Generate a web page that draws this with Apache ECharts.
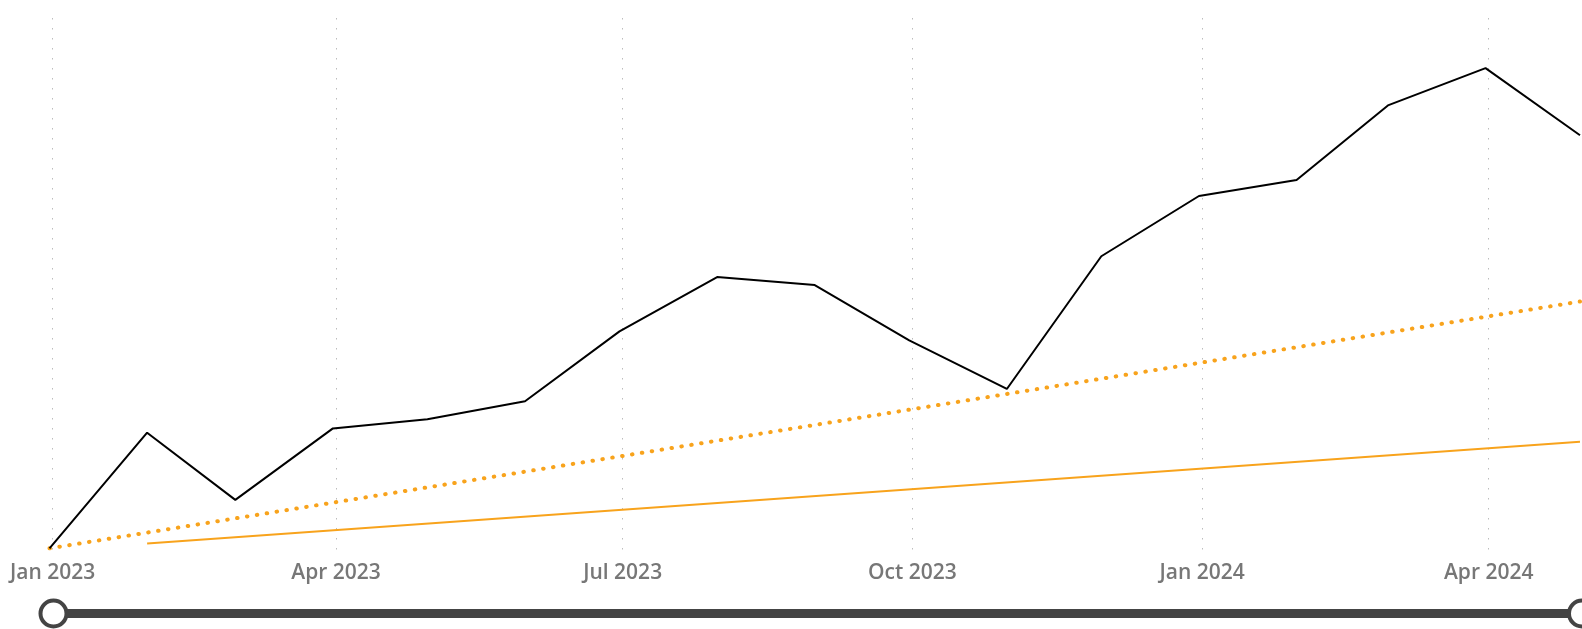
<!DOCTYPE html>
<html>
<head>
<meta charset="utf-8">
<script src="https://cdn.jsdelivr.net/npm/echarts@6/dist/echarts.min.js"></script>
<style>
html,body{margin:0;padding:0;background:#fff;}
#chart{width:1582px;height:629px;}
</style>
</head>
<body>
<div id="chart"></div>
<script>
// Actual values (month-end dates)
const actualDates = ['2022-12-31','2023-01-31','2023-02-28','2023-03-31','2023-04-30','2023-05-31','2023-06-30','2023-07-31','2023-08-31','2023-09-30','2023-10-31','2023-11-30','2023-12-31','2024-01-31','2024-02-29','2024-03-31','2024-04-30'];
const actualValues = [0.5, 22.2, 9.6, 23.0, 24.7, 28.1, 41.2, 51.4, 49.9, 39.5, 30.4, 55.3, 66.6, 69.6, 83.6, 90.6, 78.0];
// Dotted orange line (start and end)
const dottedDates = ['2022-12-31','2024-04-30'];
const dottedValues = [0.5, 46.8];
// Solid orange line (start and end)
const solidDates = ['2023-01-31','2024-04-30'];
const solidValues = [1.4, 20.5];

const xMin = '2022-12-31';
const xMax = '2024-04-30';

const zip = (d, v) => d.map((x, i) => [x, v[i]]);

const chart = echarts.init(document.getElementById('chart'));
chart.setOption({
  animation: false,
  backgroundColor: '#fff',
  grid: { left: 49.5, right: 2, top: 18, bottom: 78, outerBoundsMode: 'none', containLabel: false },
  xAxis: {
    type: 'time',
    min: xMin,
    max: xMax,
    splitNumber: 4,
    minInterval: 91 * 24 * 3600 * 1000,
    axisLine: { show: false },
    axisTick: { show: false },
    axisLabel: {
      formatter: '{MMM} {yyyy}',
      color: '#777',
      fontFamily: 'Open Sans',
      fontWeight: 600,
      fontSize: 21,
      margin: 12,
      hideOverlap: false,
      showMinLabel: false,
      showMaxLabel: false
    },
    splitLine: { show: true, showMinLine: false, showMaxLine: false, lineStyle: { color: '#bdbdbd', width: 1, type: [1.5, 8.5] } }
  },
  yAxis: {
    type: 'value',
    min: 0,
    max: 100,
    show: false,
    splitLine: { show: false }
  },
  dataZoom: [{
    type: 'slider',
    xAxisIndex: 0,
    start: 0,
    end: 100,
    left: 49.5,
    right: 2,
    bottom: 11,
    height: 9,
    showDetail: false,
    showDataShadow: false,
    brushSelect: false,
    moveHandleSize: 0,
    backgroundColor: 'transparent',
    borderColor: 'transparent',
    fillerColor: '#444',
    handleIcon: 'circle',
    handleSize: 26,
    handleStyle: { color: '#fff', borderColor: '#444', borderWidth: 4 },
    emphasis: { handleStyle: { color: '#fff', borderColor: '#444', borderWidth: 4 } }
  }],
  series: [
    {
      type: 'line',
      data: zip(solidDates, solidValues),
      symbol: 'none',
      lineStyle: { color: '#F8A31C', width: 2 },
      z: 2
    },
    {
      type: 'line',
      data: zip(dottedDates, dottedValues),
      symbol: 'none',
      lineStyle: { color: '#F8A31C', width: 4, type: [0.5, 9.5], cap: 'round' },
      z: 3
    },
    {
      type: 'line',
      data: zip(actualDates, actualValues),
      symbol: 'none',
      lineStyle: { color: '#000', width: 2 },
      z: 4
    }
  ]
});
</script>
</body>
</html>
